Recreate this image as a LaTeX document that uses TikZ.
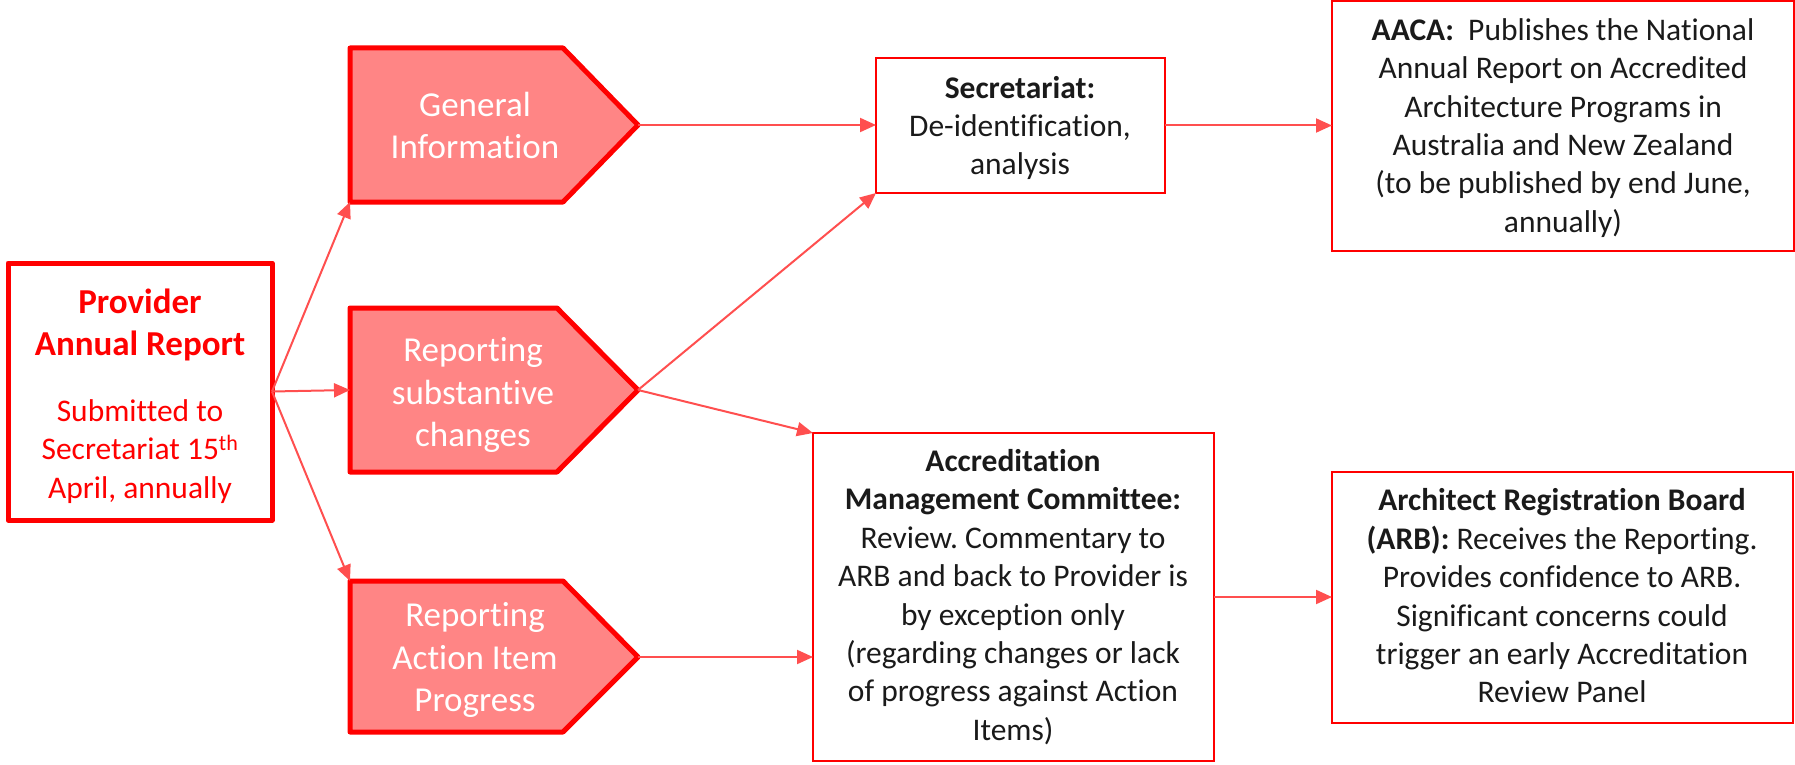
\documentclass[tikz,border=0pt]{standalone}
\usepackage{fontspec}
\setmainfont{Carlito}[Ligatures=NoCommon]
\usetikzlibrary{arrows.meta}
\definecolor{boxred}{HTML}{FF0000}
\definecolor{pentfill}{HTML}{FF8585}
\definecolor{arrowred}{HTML}{FF4F4F}
\definecolor{txt}{HTML}{1A1A1A}
\frenchspacing
\begin{document}
\begin{tikzpicture}[x=1pt,y=-1pt,
  thinbox/.style={draw=boxred, line width=2pt, rectangle, inner sep=0pt, outer sep=0pt},
  thickbox/.style={draw=boxred, line width=5pt, rectangle, inner sep=0pt, outer sep=0pt, line join=round},
  body/.style={font=\fontsize{31.5}{38.4}\selectfont, text=txt, align=center, inner sep=0pt},
  provtext/.style={font=\fontsize{31.5}{38.4}\selectfont, text=boxred, align=center, inner sep=0pt},
  provtitle/.style={font=\fontsize{35}{42.6}\selectfont\bfseries, text=boxred, align=center, inner sep=0pt},
  penttext/.style={font=\fontsize{35}{42.6}\selectfont, text=white, align=center, inner sep=0pt},
  pent/.style={draw=boxred, fill=pentfill, line width=5pt, line join=round},
  conn/.style={draw=arrowred, line width=2pt, -{Triangle[length=16pt,width=14pt]}},
]
\useasboundingbox (0,0) rectangle (1795,765);

% Provider box
\node[thickbox, minimum width=264pt, minimum height=257pt] (prov) at (140,391.5) {};
\node[provtitle] (provT) at (140,325) {Provider\\Annual Report};
\node[provtext] (provS) at (140,451.5) {Submitted to\\Secretariat 15\textsuperscript{th}\\April, annually};

% Pentagons
\draw[pent] (350,48) coordinate (gi-nw) -- (563,48) -- (638,125) coordinate (gi-tip) -- (563,202) -- (350,202) coordinate (gi-sw) -- cycle;
\node[penttext] (gi) at (475,125.5) {General\\Information};

\draw[pent] (350,308) coordinate (rc-nw) -- (557,308) -- (638,390) coordinate (rc-tip) -- (557,472) -- (350,472) coordinate (rc-sw) -- cycle;
\coordinate (rc-w) at (350,390);
\node[penttext] (rc) at (473,395) {Reporting\\substantive\\changes};

\draw[pent] (350,581) coordinate (ai-nw) -- (563,581) -- (638,657) coordinate (ai-tip) -- (563,732) -- (350,732) coordinate (ai-sw) -- cycle;
\node[penttext] (ai) at (475,660) {Reporting\\Action Item\\Progress};

% Right-hand boxes
\node[thinbox, minimum width=289pt, minimum height=135pt] (sec) at (1020.5,125.5) {};
\node[body] (secT) at (1020,128) {\textbf{Secretariat:}\\De-identification,\\analysis};

\node[thinbox, minimum width=462pt, minimum height=250pt] (aaca) at (1563,126) {};
\node[body] (aacaT) at (1563,128) {\textbf{AACA:}\ \ Publishes the National\\Annual Report on Accredited\\Architecture Programs in\\Australia and New Zealand\\(to be published by end June,\\annually)};

\node[thinbox, minimum width=401pt, minimum height=328pt] (amc) at (1013.5,597) {};
\node[body] (amcT) at (1013,597) {\textbf{Accreditation}\\\textbf{Management Committee:}\\Review. Commentary to\\ARB and back to Provider is\\by exception only\\(regarding changes or lack\\of progress against Action\\Items)};

\node[thinbox, minimum width=461pt, minimum height=251pt] (arb) at (1562.5,597.5) {};
\node[body] (arbT) at (1562,596) {\textbf{Architect Registration Board}\\\textbf{(ARB):} Receives the Reporting.\\Provides confidence to ARB.\\Significant concerns could\\trigger an early Accreditation\\Review Panel};

% Connectors
\draw[conn] (prov.east) -- (gi-sw);
\draw[conn] (prov.east) -- (rc-w);
\draw[conn] (prov.east) -- (ai-nw);
\draw[conn] (gi-tip) -- (sec.west |- gi-tip);
\draw[conn] (rc-tip) -- (sec.south west);
\draw[conn] (rc-tip) -- (amc.north west);
\draw[conn] (ai-tip) -- (amc.west |- ai-tip);
\draw[conn] (sec.east) -- (aaca.west |- sec.east);
\draw[conn] (amc.east) -- (arb.west |- amc.east);
\end{tikzpicture}
\end{document}
